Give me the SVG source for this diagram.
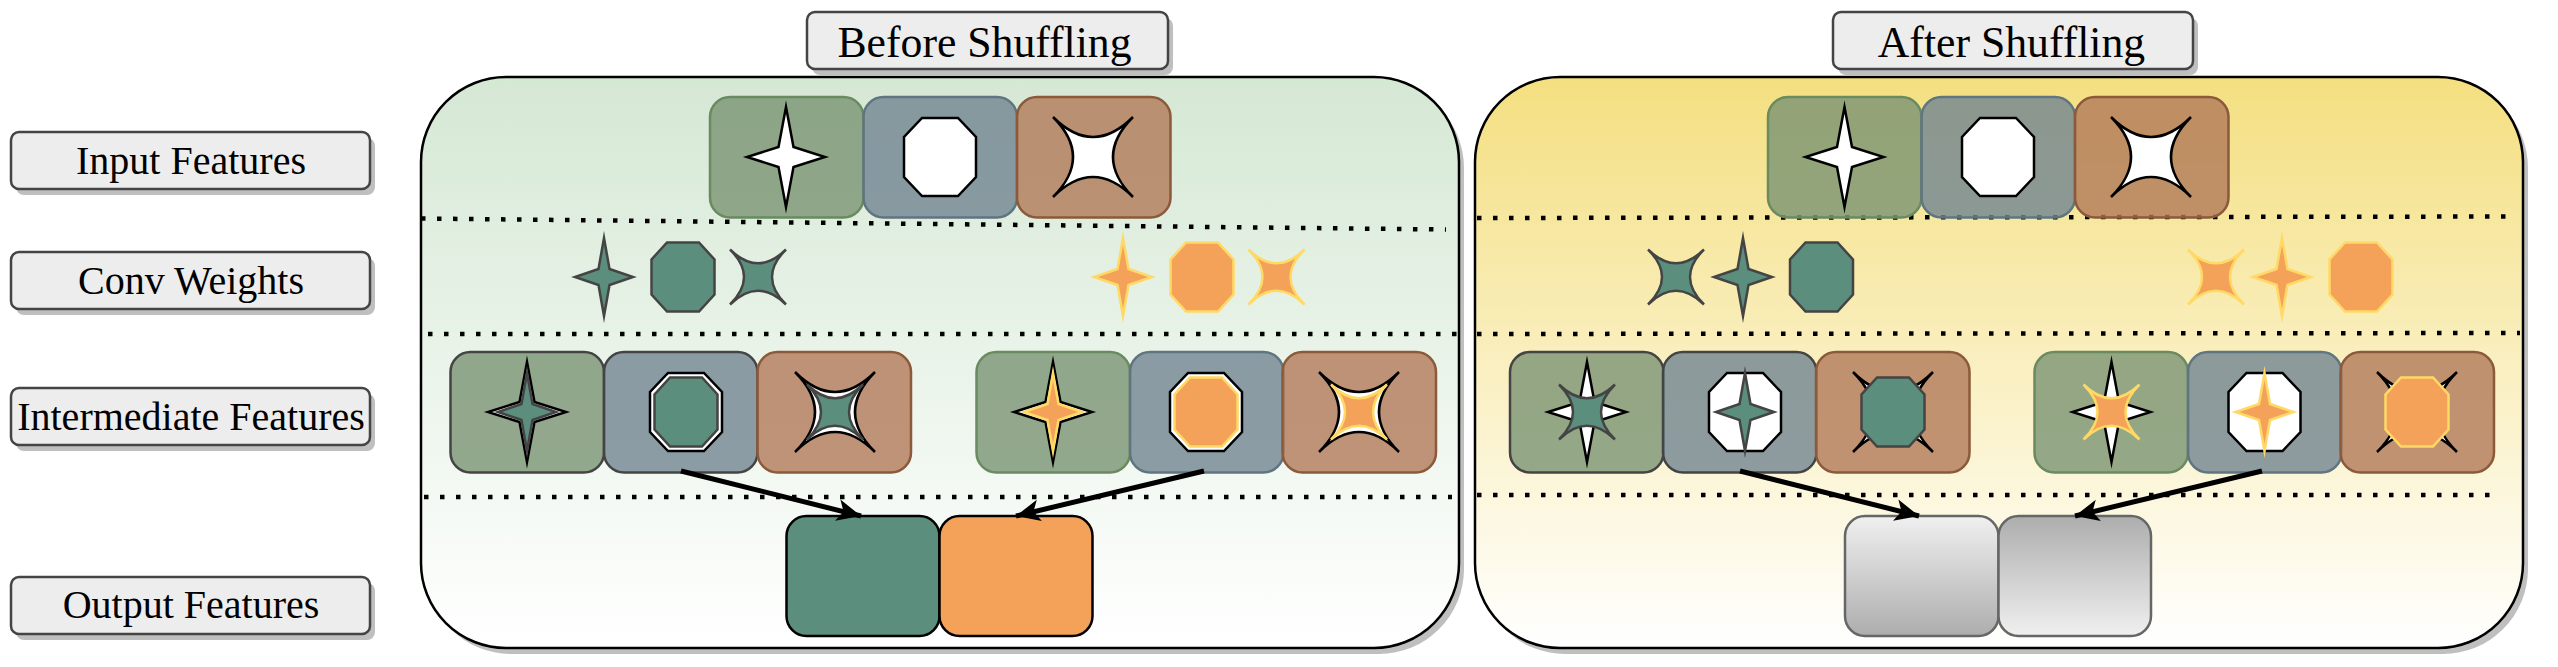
<svg xmlns="http://www.w3.org/2000/svg" xmlns:xlink="http://www.w3.org/1999/xlink" width="2558" height="667" viewBox="0 0 2558 667">
<style>
.lab{fill:#ededed;stroke:#444;stroke-width:2.5}
.shd{fill:#bfbfbf}
text{font-family:"Liberation Serif","Times New Roman",serif;font-size:40px;fill:#000;text-anchor:middle}
.head{font-size:43.7px}
.panel{stroke:#000;stroke-width:2.5}
.dot{fill:none;stroke:#000;stroke-width:4.5;stroke-dasharray:4.5 11.5}
.box{stroke-width:2.5}
.g{fill:#7b9473;fill-opacity:.8}
.b{fill:#728491;fill-opacity:.8}
.r{fill:#b17959;fill-opacity:.8}
.sg{stroke:#6a8a60}.sb{stroke:#5f7580}.sr{stroke:#8a5a3a}.sd{stroke:#444}
.w{fill:#fff;stroke:#000;stroke-width:2.5;stroke-miterlimit:10}
.cg{fill:#5b8e7d;stroke:#444;stroke-width:2.5;stroke-miterlimit:10}
.co{fill:#f4a259;stroke:#ffd966;stroke-width:2.5;stroke-miterlimit:10}
.arrow{fill:none;stroke:#000;stroke-width:5}
</style>
<defs>
<linearGradient id="gl" x1="0" y1="0" x2="0" y2="1"><stop offset="0" stop-color="#d5e8d4"/><stop offset="1" stop-color="#fff"/></linearGradient>
<linearGradient id="gr" x1="0" y1="0" x2="0" y2="1"><stop offset="0" stop-color="#f4df80"/><stop offset="1" stop-color="#fff"/></linearGradient>
<linearGradient id="gd" x1="0" y1="0" x2="0" y2="1"><stop offset="0" stop-color="#f0f0f0"/><stop offset="1" stop-color="#adadad"/></linearGradient>
<linearGradient id="gu" x1="0" y1="0" x2="0" y2="1"><stop offset="0" stop-color="#adadad"/><stop offset="1" stop-color="#f0f0f0"/></linearGradient>
<path id="star" d="M0-50L7.500-10L39 0L7.500 10L0 50L-7.500 10L-39 0L-7.500-10Z"/>
<path id="oct" d="M-18-39H18L36-20V20L18 39H-18L-36 20V-20Z"/>
<path id="conc" d="M-40-40Q0 0 40-40Q0 0 40 40Q0 0-40 40Q0 0-40-40Z"/>
<path id="stars" d="M0-39L5.500-8L29 0L5.500 8L0 39L-5.500 8L-29 0L-5.500-8Z"/>
<path id="octs" d="M-16-34.500H16L31.500-17.500V17.500L16 34.500H-16L-31.500 17.500V-17.500Z"/>
<path id="concs" d="M-28-27.500Q0 0 28-27.500Q0 0 28 27.500Q0 0-28 27.500Q0 0-28-27.500Z"/>
<rect id="tile" width="153.500" height="120.500" rx="20"/>
<rect id="labs" width="359" height="57" rx="8"/>
<marker id="ah" markerUnits="userSpaceOnUse" markerWidth="26" markerHeight="30" refX="24" refY="15" orient="auto"><path d="M0 4L24 15L0 26L6 15Z" fill="#000"/></marker>
</defs>

<g id="label-input"><use href="#labs" x="16" y="138" class="shd"/><use href="#labs" x="11" y="132" class="lab"/><text x="191" y="174">Input Features</text></g>
<g id="label-conv"><use href="#labs" x="16" y="258" class="shd"/><use href="#labs" x="11" y="252" class="lab"/><text x="191" y="294">Conv Weights</text></g>
<g id="label-intermediate"><use href="#labs" x="16" y="394" class="shd"/><use href="#labs" x="11" y="388" class="lab"/><text x="191" y="430">Intermediate Features</text></g>
<g id="label-output"><use href="#labs" x="16" y="583" class="shd"/><use href="#labs" x="11" y="577" class="lab"/><text x="191" y="618">Output Features</text></g>

<g id="panel-before">
<rect x="426" y="83" width="1038" height="571" rx="85" class="shd"/>
<rect x="421" y="77" width="1038" height="571" rx="85" fill="url(#gl)" class="panel"/>
</g>
<g id="panel-after">
<rect x="1480" y="83" width="1048" height="571" rx="85" class="shd"/>
<rect x="1475" y="77" width="1048" height="571" rx="85" fill="url(#gr)" class="panel"/>
</g>

<g id="header-before"><rect x="812" y="18" width="361" height="57" rx="8" class="shd"/><rect x="807" y="12" width="361" height="57" rx="8" class="lab"/><text class="head" x="984.500" y="57">Before Shuffling</text></g>
<g id="header-after"><rect x="1838" y="18" width="360" height="57" rx="8" class="shd"/><rect x="1833" y="12" width="360" height="57" rx="8" class="lab"/><text class="head" x="2011.500" y="57">After Shuffling</text></g>

<g id="dividers">
<path class="dot" d="M421 218.500L1446 229.500"/>
<path class="dot" d="M428 334H1458"/>
<path class="dot" d="M424 497H1452"/>
<path class="dot" d="M1477 218L2516 216.500"/>
<path class="dot" d="M1477 334L2520 333"/>
<path class="dot" d="M1477 495H2501"/>
</g>

<g id="input-before">
<use href="#tile" x="710" y="97" class="box g sg"/><use href="#tile" x="863.500" y="97" class="box b sb"/><use href="#tile" x="1017" y="97" class="box r sr"/>
<use href="#star" x="786" y="157" class="w"/><use href="#oct" x="940" y="157" class="w"/><use href="#conc" x="1093" y="157" class="w"/>
</g>
<g id="weights-before">
<use href="#stars" x="604" y="277" class="cg"/><use href="#octs" x="683" y="277" class="cg"/><use href="#concs" x="758" y="277" class="cg"/>
<use href="#stars" x="1123" y="277" class="co"/><use href="#octs" x="1202" y="277" class="co"/><use href="#concs" x="1276.500" y="277" class="co"/>
</g>
<g id="intermediate-before-1">
<use href="#tile" x="450.500" y="352" class="box g sd"/><use href="#tile" x="604" y="352" class="box b sd"/><use href="#tile" x="757.500" y="352" class="box r sr"/>
<use href="#star" x="527" y="412" class="w"/><use href="#stars" x="527" y="412" class="cg"/>
<use href="#oct" x="686" y="412" class="w"/><use href="#octs" x="686" y="412" class="cg"/>
<use href="#conc" x="835" y="412" class="w"/><use href="#concs" x="835" y="412" class="cg"/>
</g>
<g id="intermediate-before-2">
<use href="#tile" x="976.500" y="352" class="box g sg"/><use href="#tile" x="1130" y="352" class="box b sb"/><use href="#tile" x="1282.500" y="352" class="box r sr"/>
<use href="#star" x="1053" y="412" class="w"/><use href="#stars" x="1053" y="412" class="co"/>
<use href="#oct" x="1206" y="412" class="w"/><use href="#octs" x="1206" y="412" class="co"/>
<use href="#conc" x="1359" y="412" class="w"/><use href="#concs" x="1359" y="412" class="co"/>
</g>
<g id="output-before">
<rect x="786.500" y="516" width="153" height="120" rx="20" fill="#5b8e7d" stroke="#000" stroke-width="2.500"/>
<rect x="939.500" y="516" width="153" height="120" rx="20" fill="#f4a259" stroke="#000" stroke-width="2.500"/>
</g>

<g id="input-after">
<use href="#tile" x="1768" y="97" class="box g sg"/><use href="#tile" x="1921.500" y="97" class="box b sb"/><use href="#tile" x="2075" y="97" class="box r sr"/>
<use href="#star" x="1844.500" y="157" class="w"/><use href="#oct" x="1998" y="157" class="w"/><use href="#conc" x="2151" y="157" class="w"/>
</g>
<g id="weights-after">
<use href="#concs" x="1676" y="277" class="cg"/><use href="#stars" x="1743" y="277" class="cg"/><use href="#octs" x="1821.500" y="277" class="cg"/>
<use href="#concs" x="2216" y="277" class="co"/><use href="#stars" x="2282" y="277" class="co"/><use href="#octs" x="2361" y="277" class="co"/>
</g>
<g id="intermediate-after-1">
<use href="#tile" x="1510" y="352" class="box g sd"/><use href="#tile" x="1663" y="352" class="box b sd"/><use href="#tile" x="1816" y="352" class="box r sr"/>
<use href="#star" x="1587" y="412" class="w"/><use href="#concs" x="1587" y="412" class="cg"/>
<use href="#oct" x="1745" y="412" class="w"/><use href="#stars" x="1745" y="412" class="cg"/>
<use href="#conc" x="1893" y="412" class="w"/><use href="#octs" x="1893" y="412" class="cg"/>
</g>
<g id="intermediate-after-2">
<use href="#tile" x="2034.500" y="352" class="box g sg"/><use href="#tile" x="2188" y="352" class="box b sb"/><use href="#tile" x="2340.500" y="352" class="box r sr"/>
<use href="#star" x="2111.500" y="412" class="w"/><use href="#concs" x="2111.500" y="412" class="co"/>
<use href="#oct" x="2264.500" y="412" class="w"/><use href="#stars" x="2264.500" y="412" class="co"/>
<use href="#conc" x="2417" y="412" class="w"/><use href="#octs" x="2417" y="412" class="co"/>
</g>
<g id="output-after">
<rect x="1845" y="516" width="153.500" height="120" rx="20" fill="url(#gd)" stroke="#666" stroke-width="2.500"/>
<rect x="1998.500" y="516" width="152.500" height="120" rx="20" fill="url(#gu)" stroke="#666" stroke-width="2.500"/>
</g>

<g id="connectors">
<path class="arrow" marker-end="url(#ah)" d="M681 471L861 516"/>
<path class="arrow" marker-end="url(#ah)" d="M1204 471L1016 516"/>
<path class="arrow" marker-end="url(#ah)" d="M1740 471L1919 516"/>
<path class="arrow" marker-end="url(#ah)" d="M2262 471L2075 516"/>
</g>
</svg>
